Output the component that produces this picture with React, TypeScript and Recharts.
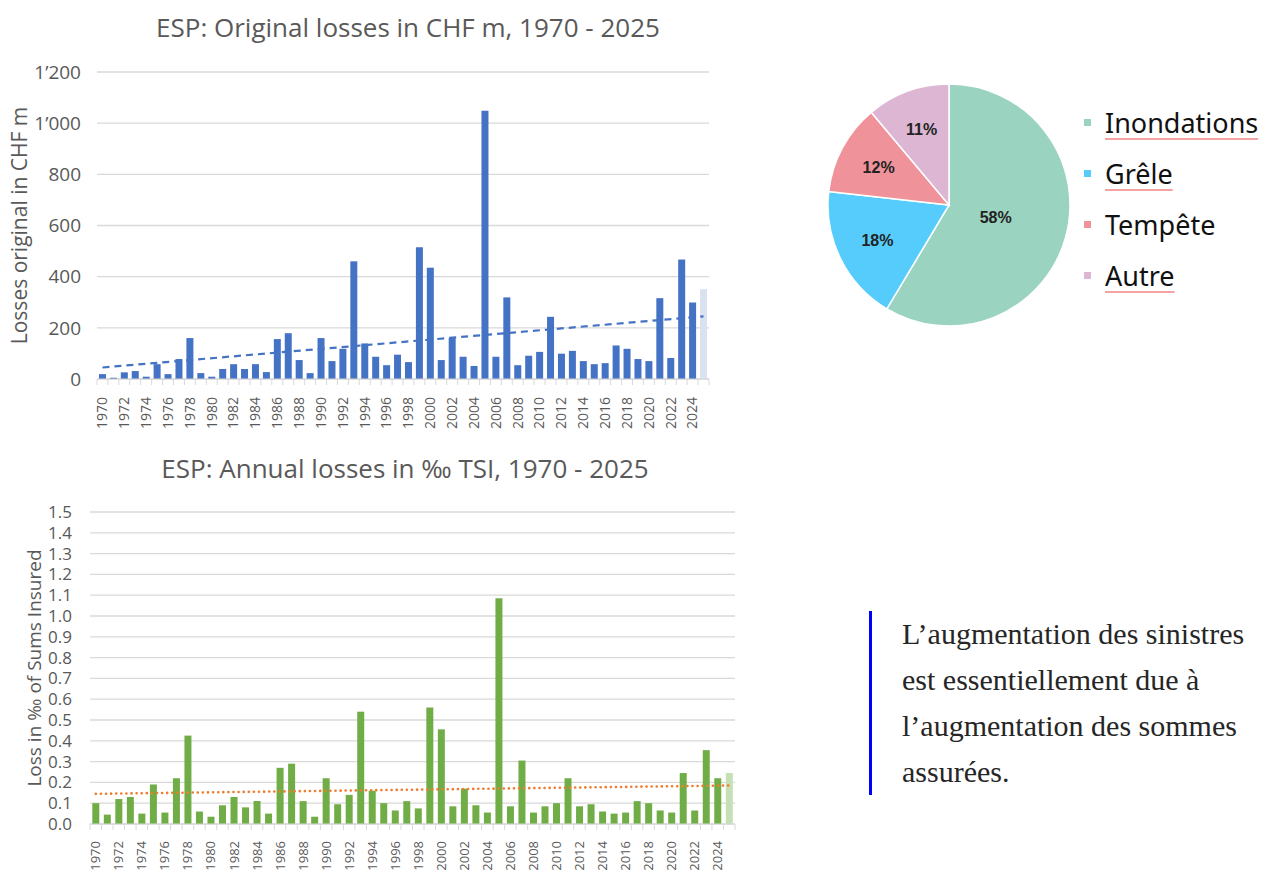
import {
  Bar,
  CartesianGrid,
  Cell,
  ComposedChart,
  Legend,
  Line,
  Pie,
  PieChart,
  XAxis,
  YAxis,
} from 'recharts'

const YEARS = [
  '1970', '1971', '1972', '1973', '1974', '1975', '1976', '1977', '1978', '1979',
  '1980', '1981', '1982', '1983', '1984', '1985', '1986', '1987', '1988', '1989',
  '1990', '1991', '1992', '1993', '1994', '1995', '1996', '1997', '1998', '1999',
  '2000', '2001', '2002', '2003', '2004', '2005', '2006', '2007', '2008', '2009',
  '2010', '2011', '2012', '2013', '2014', '2015', '2016', '2017', '2018', '2019',
  '2020', '2021', '2022', '2023', '2024', '2025',
]

// CHF m
const LOSSES_CHF = [
  19, 5, 26, 31, 9, 58, 19, 78, 160, 23,
  9, 39, 58, 39, 58, 27, 156, 179, 74, 23,
  160, 70, 118, 460, 139, 87, 54, 95, 66, 515,
  435, 74, 160, 87, 51, 1049, 87, 319, 54, 91,
  106, 243, 99, 110, 70, 58, 62, 131, 118, 78,
  70, 316, 82, 467, 299, 351,
]
const CHF_TREND = [45, 245] // 1970, 2025
const CHF_TICKS = [0, 200, 400, 600, 800, 1000, 1200]

// per mille of total sums insured
const LOSSES_TSI = [
  0.1, 0.045, 0.12, 0.13, 0.05, 0.19, 0.055, 0.22, 0.425, 0.06,
  0.035, 0.09, 0.13, 0.08, 0.11, 0.05, 0.27, 0.29, 0.11, 0.035,
  0.22, 0.095, 0.14, 0.54, 0.16, 0.1, 0.065, 0.11, 0.075, 0.56,
  0.455, 0.085, 0.17, 0.09, 0.055, 1.085, 0.085, 0.305, 0.055, 0.085,
  0.1, 0.22, 0.085, 0.095, 0.06, 0.05, 0.055, 0.11, 0.1, 0.065,
  0.055, 0.245, 0.065, 0.355, 0.22, 0.245,
]
const TSI_TREND = [0.145, 0.185]
const TSI_TICKS = [0, 0.1, 0.2, 0.3, 0.4, 0.5, 0.6, 0.7, 0.8, 0.9, 1.0, 1.1, 1.2, 1.3, 1.4, 1.5]

const PERILS = ['Inondations', 'Grêle', 'Tempête', 'Autre']
const PERIL_SHARES = [58, 18, 12, 11]

const FLAGGED = ['Inondations', 'Grêle', 'Autre'] // spell-check underline in the slide
const PIE_COLORS = ['#9AD3BF', '#56CCFD', '#F0929A', '#DDB6D4']

const GREY = '#595959'
const GRID = '#D9D9D9'
const FONT = '"Open Sans", sans-serif'

const last = YEARS.length - 1

const chfData = YEARS.map((year, i) => ({
  year,
  value: LOSSES_CHF[i],
  trend: i === 0 ? CHF_TREND[0] : i === last ? CHF_TREND[1] : null,
}))

const tsiData = YEARS.map((year, i) => ({
  year,
  value: LOSSES_TSI[i],
  trend: i === 0 ? TSI_TREND[0] : i === last ? TSI_TREND[1] : null,
}))

const pieData = PERILS.map((name, i) => ({ name, value: PERIL_SHARES[i] }))

function fmtChf(v: number) {
  if (v < 1000) return String(v)
  return `${Math.floor(v / 1000)}’${String(v % 1000).padStart(3, '0')}`
}

// excel-style category axis: ticks between categories, every 2nd year labelled
function yearTick(band: number, gap: number, size: number) {
  return (props: any) => {
    const { x, y, payload, index } = props
    const axisY = y - 8
    const ty = y + gap
    return (
      <g>
        <line x1={x - band / 2} x2={x - band / 2} y1={axisY} y2={axisY + 6} stroke={GRID} />
        {index === last && (
          <line x1={x + band / 2} x2={x + band / 2} y1={axisY} y2={axisY + 6} stroke={GRID} />
        )}
        {index % 2 === 0 && (
          <text
            x={x}
            y={ty}
            dy="0.35em"
            transform={`rotate(-90, ${x}, ${ty})`}
            textAnchor="end"
            fontSize={size}
            fontFamily={FONT}
            fill={GREY}
          >
            {payload.value}
          </text>
        )}
      </g>
    )
  }
}

function Title({ text, top, center }: { text: string; top: number; center: number }) {
  return (
    <div
      style={{
        position: 'absolute',
        top,
        left: center - 400,
        width: 800,
        textAlign: 'center',
        fontFamily: FONT,
        fontSize: 26,
        color: GREY,
        lineHeight: '30px',
      }}
    >
      {text}
    </div>
  )
}

function ChfChart() {
  return (
    <div style={{ position: 'absolute', left: 0, top: 0 }}>
      <ComposedChart
        width={740}
        height={440}
        data={chfData}
        margin={{ top: 72, right: 31, bottom: 11, left: 0 }}
        barCategoryGap="18%"
      >
        <CartesianGrid vertical={false} stroke={GRID} strokeWidth={1.3} />
        <XAxis
          dataKey="year"
          interval={0}
          height={50}
          tickLine={false}
          stroke={GRID}
          tick={yearTick(612 / 56, 10, 14)}
        />
        <YAxis
          width={97}
          domain={[0, 1200]}
          ticks={CHF_TICKS}
          interval={0}
          tickFormatter={fmtChf}
          axisLine={false}
          tickLine={false}
          tickMargin={10}
          tick={{ fontSize: 19, fill: GREY, fontFamily: FONT }}
          label={{
            value: 'Losses original in CHF m',
            angle: -90,
            position: 'insideLeft',
            offset: 20,
            style: { textAnchor: 'middle', fontSize: 21, fill: GREY, fontFamily: FONT },
          }}
        />
        <Bar dataKey="value" isAnimationActive={false}>
          {chfData.map((d, i) => (
            <Cell key={d.year} fill={i === last ? '#D9E1F2' : '#4472C4'} />
          ))}
        </Bar>
        <Line
          type="linear"
          dataKey="trend"
          connectNulls
          dot={false}
          stroke="#4472C4"
          strokeWidth={2.2}
          strokeDasharray="7 5"
          isAnimationActive={false}
        />
      </ComposedChart>
    </div>
  )
}

function TsiChart() {
  return (
    <div style={{ position: 'absolute', left: 0, top: 440 }}>
      <ComposedChart
        width={760}
        height={430}
        data={tsiData}
        margin={{ top: 72, right: 25, bottom: 1, left: 0 }}
        barCategoryGap="20%"
      >
        <CartesianGrid vertical={false} stroke={GRID} strokeWidth={1.3} />
        <XAxis
          dataKey="year"
          interval={0}
          height={45}
          tickLine={false}
          stroke={GRID}
          tick={yearTick(645 / 56, 9, 13)}
        />
        <YAxis
          width={90}
          domain={[0, 1.5]}
          ticks={TSI_TICKS}
          interval={0}
          tickFormatter={(v: number) => v.toFixed(1)}
          axisLine={false}
          tickLine={false}
          tickMargin={12}
          tick={{ fontSize: 17, fill: GREY, fontFamily: FONT }}
          label={{
            value: 'Loss in ‰ of Sums Insured',
            angle: -90,
            position: 'insideLeft',
            offset: 34,
            style: { textAnchor: 'middle', fontSize: 19, fill: GREY, fontFamily: FONT },
          }}
        />
        <Bar dataKey="value" isAnimationActive={false}>
          {tsiData.map((d, i) => (
            <Cell key={d.year} fill={i === last ? '#C5E0B4' : '#70AD47'} />
          ))}
        </Bar>
        <Line
          type="linear"
          dataKey="trend"
          connectNulls
          dot={false}
          stroke="#ED7D31"
          strokeWidth={2.6}
          strokeDasharray="0.1 5"
          strokeLinecap="round"
          isAnimationActive={false}
        />
      </ComposedChart>
    </div>
  )
}

function PerilLegend(props: any) {
  const items = [...(props.payload || [])].sort(
    (a: any, b: any) => PERILS.indexOf(a.value) - PERILS.indexOf(b.value),
  )
  return (
    <div style={{ fontFamily: '"Noto Sans", sans-serif', fontSize: 27, color: '#111' }}>
      {items.map((it: any) => (
        <div key={it.value} style={{ height: 51, display: 'flex', alignItems: 'center' }}>
          <span style={{ width: 7, height: 7, background: it.color, marginRight: 14, flex: 'none' }} />
          <span
            style={{
              textDecoration: FLAGGED.includes(it.value) ? 'underline' : 'none',
              textDecorationColor: '#F4A3A3',
              textUnderlineOffset: 5,
              textDecorationThickness: 1.5,
            }}
          >
            {it.value}
          </span>
        </div>
      ))}
    </div>
  )
}

function sliceLabel(props: any) {
  const { cx, cy, midAngle, outerRadius, percent, value } = props
  const r = outerRadius * (percent > 0.5 ? 0.4 : 0.66)
  const a = (-midAngle * Math.PI) / 180
  return (
    <text
      x={cx + r * Math.cos(a)}
      y={cy + r * Math.sin(a)}
      textAnchor="middle"
      dominantBaseline="central"
      fontSize={16}
      fontWeight="bold"
      fontFamily='"Liberation Sans", Arial, sans-serif'
      fill="#222"
    >
      {value}%
    </text>
  )
}

function PerilPie() {
  return (
    <div style={{ position: 'absolute', left: 820, top: 76 }}>
      <PieChart width={446} height={260} margin={{ top: 0, right: 0, bottom: 0, left: 0 }}>
        <Pie
          data={pieData}
          dataKey="value"
          nameKey="name"
          cx={129}
          cy={129}
          outerRadius={121}
          startAngle={90}
          endAngle={-270}
          stroke="#fff"
          strokeWidth={1.5}
          label={sliceLabel}
          labelLine={false}
          isAnimationActive={false}
        >
          {pieData.map((d, i) => (
            <Cell key={d.name} fill={PIE_COLORS[i]} />
          ))}
        </Pie>
        <Legend
          content={PerilLegend}
          wrapperStyle={{ left: 264, top: 21, width: 182, bottom: 'auto', right: 'auto' }}
        />
      </PieChart>
    </div>
  )
}

function Note() {
  return (
    <div
      style={{
        position: 'absolute',
        left: 869,
        top: 611,
        borderLeft: '3px solid #0000FF',
        paddingLeft: 30,
        fontFamily: '"Liberation Serif", serif',
        fontSize: 30,
        lineHeight: '46px',
        color: '#262626',
        whiteSpace: 'nowrap',
      }}
    >
      L’augmentation des sinistres
      <br />
      est essentiellement due à
      <br />
      l’augmentation des sommes
      <br />
      assurées.
    </div>
  )
}

export default function App() {
  return (
    <div style={{ position: 'absolute', left: 0, top: 0, width: 1266, height: 870, background: '#fff' }}>
      <Title text="ESP: Original losses in CHF m, 1970 - 2025" top={12} center={408} />
      <Title text="ESP: Annual losses in ‰ TSI, 1970 - 2025" top={453} center={405} />
      <ChfChart />
      <TsiChart />
      <PerilPie />
      <Note />
    </div>
  )
}
